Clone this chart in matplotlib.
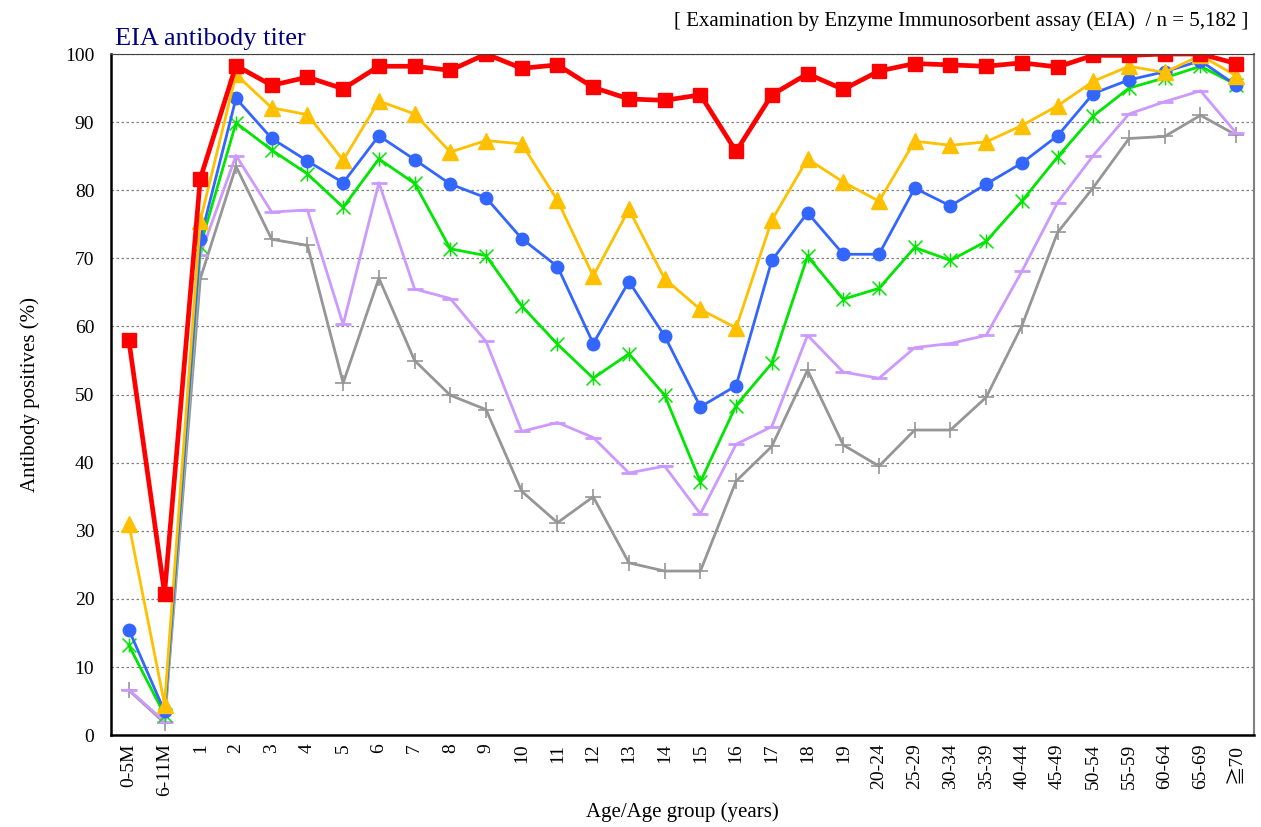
import matplotlib
matplotlib.use("Agg")
from matplotlib import pyplot as plt
from matplotlib.path import Path

plt.rcParams['font.family'] = ['Liberation Serif', 'Noto Sans CJK JP', 'DejaVu Sans']

ages = ['0-5M', '6-11M', '1', '2', '3', '4', '5', '6', '7', '8', '9', '10',
        '11', '12', '13', '14', '15', '16', '17', '18', '19',
        '20-24', '25-29', '30-34', '35-39', '40-44', '45-49', '50-54',
        '55-59', '60-64', '65-69', '≧70']

# 抗体価ごとの陽性率 (%)
red = [58.0, 20.8, 81.7, 98.3, 95.4, 96.6, 94.9, 98.2, 98.2, 97.6, 100.0, 97.9,
       98.4, 95.1, 93.4, 93.2, 94.0, 85.7, 94.0, 97.1, 94.8,
       97.5, 98.6, 98.4, 98.2, 98.7, 98.1, 99.8, 99.8, 100.0, 100.0, 98.6]
yellow = [31.0, 4.5, 75.5, 97.0, 92.1, 91.1, 84.4, 93.1, 91.2, 85.6, 87.3, 86.8,
          78.5, 67.4, 77.2, 67.0, 62.5, 59.8, 75.6, 84.6, 81.2,
          78.4, 87.2, 86.6, 87.1, 89.5, 92.4, 96.0, 98.2, 97.3, 99.8, 96.8]
blue = [15.5, 3.5, 72.8, 93.5, 87.6, 84.3, 81.1, 88.0, 84.5, 80.9, 78.9, 72.9,
        68.8, 57.5, 66.6, 58.6, 48.2, 51.3, 69.7, 76.7, 70.6,
        70.6, 80.3, 77.7, 80.9, 84.0, 88.0, 94.2, 96.2, 97.4, 99.0, 95.4]
green = [13.2, 3.0, 71.8, 89.9, 85.9, 82.4, 77.5, 84.6, 81.0, 71.4, 70.4, 63.0,
         57.4, 52.4, 56.0, 49.9, 37.2, 48.4, 54.6, 70.3, 64.0,
         65.6, 71.6, 69.7, 72.5, 78.4, 84.9, 90.9, 95.0, 96.5, 98.2, 95.5]
purple = [6.7, 2.0, 70.5, 85.1, 76.8, 77.1, 60.3, 81.1, 65.5, 64.1, 57.8, 44.6,
          45.9, 43.7, 38.5, 39.5, 32.5, 42.7, 45.3, 58.7, 53.3,
          52.4, 56.9, 57.5, 58.7, 68.1, 78.2, 85.1, 91.2, 93.0, 94.6, 88.4]
gray = [6.6, 1.8, 67.0, 83.5, 72.8, 71.9, 51.7, 67.1, 55.0, 49.9, 47.8, 35.8,
        31.2, 35.0, 25.3, 24.1, 24.1, 37.3, 42.4, 53.6, 42.6,
        39.5, 44.8, 44.8, 49.6, 60.1, 73.8, 80.4, 87.6, 87.9, 91.0, 88.1]

x = list(range(len(ages)))

# Excelの「*」マーカー (x + 縦線)
star = Path([(-1, -1), (1, 1), (-1, 1), (1, -1), (0, -1), (0, 1)],
            [Path.MOVETO, Path.LINETO, Path.MOVETO, Path.LINETO, Path.MOVETO, Path.LINETO])

fig = plt.figure(figsize=(12.61, 8.27), dpi=100)
ax = fig.add_axes([0.088, 0.111, 0.9065, 0.8237])

ax.plot(x, gray, color='#969696', lw=2, marker='+', ms=11, mew=1.2)
ax.plot(x, purple, color='#cc99ff', lw=2, marker='_', ms=11, mew=2)
ax.plot(x, green, color='#00e600', lw=2, marker=star, ms=10, mew=1.1)
ax.plot(x, blue, color='#3366ff', lw=2, marker='o', ms=9)
ax.plot(x, yellow, color='#ffc000', lw=2, marker='^', ms=11)
ax.plot(x, red, color='#ff0000', lw=3.4, marker='s', ms=10)

ax.set_xlim(-0.5, len(ages) - 0.5)
ax.set_ylim(0, 100)
ax.set_yticks(range(0, 101, 10))
ax.set_xticks(x)
ax.set_xticklabels(ages, rotation=90, fontsize=14)
ax.tick_params(axis='y', labelsize=14, length=0, pad=12)
ax.tick_params(axis='x', length=0, pad=6)
ax.grid(axis='y', color='#808080', linestyle=(0, (2, 2)), lw=0.9)

ax.spines['left'].set_linewidth(1.8)
ax.spines['bottom'].set_linewidth(1.8)
ax.spines['top'].set_color('#404040')
ax.spines['right'].set_color('#808080')
ax.spines['right'].set_linewidth(1.5)

ax.set_ylabel('Antibody positives (%)', fontsize=15, labelpad=18)
ax.set_xlabel('Age/Age group (years)', fontsize=15, labelpad=4)

fig.text(0.091, 0.945, 'EIA antibody titer', color='#000080', fontsize=19)
fig.text(0.99, 0.968, '[ Examination by Enzyme Immunosorbent assay (EIA)  / n = 5,182 ]',
         fontsize=15, ha='right')

fig.savefig('out.png', dpi=100)
